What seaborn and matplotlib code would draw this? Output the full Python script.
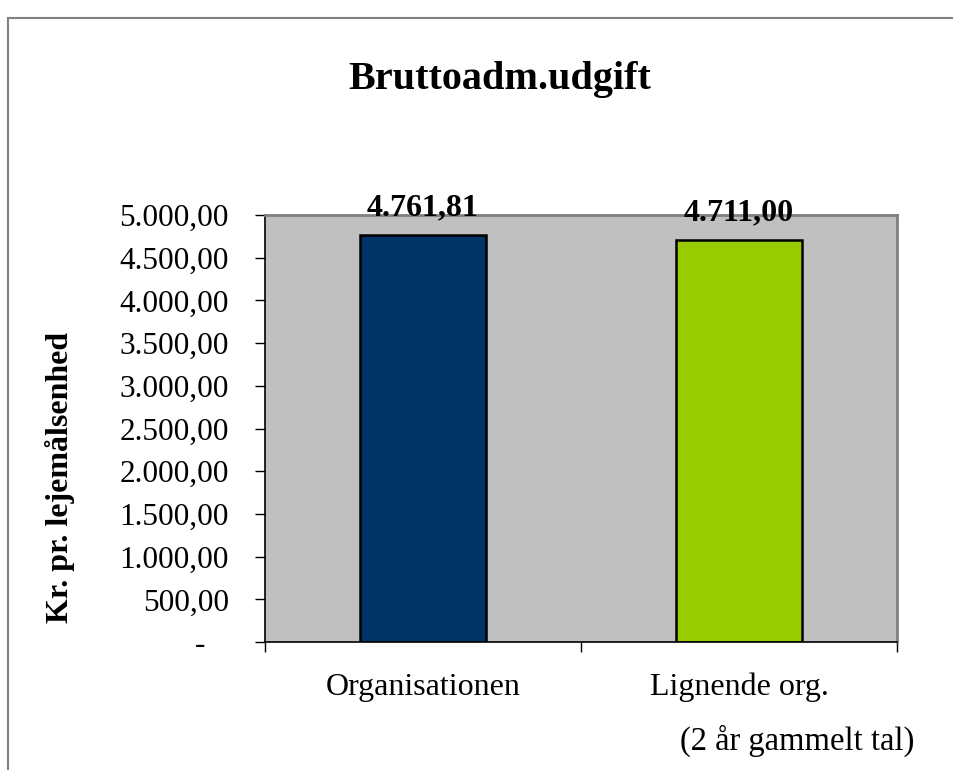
import matplotlib

matplotlib.use("Agg")
import matplotlib.pyplot as plt
import pandas as pd
import seaborn as sns
from matplotlib.patches import Rectangle
from matplotlib.ticker import FixedLocator, FuncFormatter, MultipleLocator

CATEGORIES = ["Organisationen", "Lignende org."]
VALUES = [4761.81, 4711.00]
BAR_COLORS = ["#003366", "#99CC00"]
TITLE = "Bruttoadm.udgift"
Y_LABEL = "Kr. pr. lejemålsenhed"
FOOTNOTE = "(2 år gammelt tal)"
SERIF = ["Liberation Serif", "DejaVu Serif"]


def fmt_dk(value: float) -> str:
    if abs(value) < 1e-9:
        return "-   "
    s = f"{value:,.2f}"
    return s.replace(",", "X").replace(".", ",").replace("X", ".")


def main() -> None:
    sns.set_theme(style="white")
    plt.rcParams["font.family"] = SERIF
    plt.rcParams["text.color"] = "black"
    plt.rcParams["xtick.color"] = "black"
    plt.rcParams["ytick.color"] = "black"

    df = pd.DataFrame({"category": CATEGORIES, "value": VALUES})

    fig = plt.figure(figsize=(9.54, 7.70), dpi=100)
    ax = fig.add_axes([0.2778, 0.1662, 0.6625, 0.5545])
    ax.set_facecolor("#C0C0C0")

    sns.barplot(
        data=df, x="category", y="value", hue="category", palette=BAR_COLORS,
        width=0.4, edgecolor="black", linewidth=1.8, legend=False, ax=ax,
        saturation=1,
    )

    ax.set_xlim(-0.5, 1.5)
    ax.set_ylim(0, 5000)
    ax.yaxis.set_major_locator(MultipleLocator(500))
    ax.yaxis.set_major_formatter(FuncFormatter(lambda v, _: fmt_dk(v)))
    ax.tick_params(axis="y", which="major", direction="out", length=7, width=1,
                   color="black", pad=19, labelsize=22.5, left=True,
                   labelcolor="black")
    ax.xaxis.set_minor_locator(FixedLocator([-0.5, 0.5, 1.5]))
    ax.tick_params(axis="x", which="major", length=0, pad=22, labelsize=23,
                   labelcolor="black")
    ax.tick_params(axis="x", which="minor", direction="out", length=7, width=1,
                   color="black", bottom=True)
    ax.set_xlabel("")
    ax.set_ylabel("")

    for side in ["left", "bottom"]:
        ax.spines[side].set_color("black")
        ax.spines[side].set_linewidth(1.2)
    for side in ["top", "right"]:
        ax.spines[side].set_color("#808080")
        ax.spines[side].set_linewidth(2)

    for i, v in enumerate(VALUES):
        ax.text(i, v + 150, fmt_dk(v), ha="center", va="bottom",
                fontsize=23, fontweight="bold", color="black")

    fig.text(500 / 954, 1 - 80 / 770, TITLE, ha="center", va="center",
             fontsize=29, fontweight="bold", color="black")
    fig.text(60 / 954, 1 - 477 / 770, Y_LABEL, ha="center", va="center",
             rotation=90, fontsize=23, fontweight="bold", color="black")
    fig.text(914 / 954, 1 - 741 / 770, FOOTNOTE, ha="right", va="center",
             fontsize=23.5, color="black")

    fig.patches.append(Rectangle((8 / 954, -0.1), 1.2, 1 - 18 / 770 + 0.1,
                                 transform=fig.transFigure, fill=False,
                                 edgecolor="#808080", linewidth=1.5))

    fig.savefig("out.png", dpi=100)
    plt.close(fig)


if __name__ == "__main__":
    main()
